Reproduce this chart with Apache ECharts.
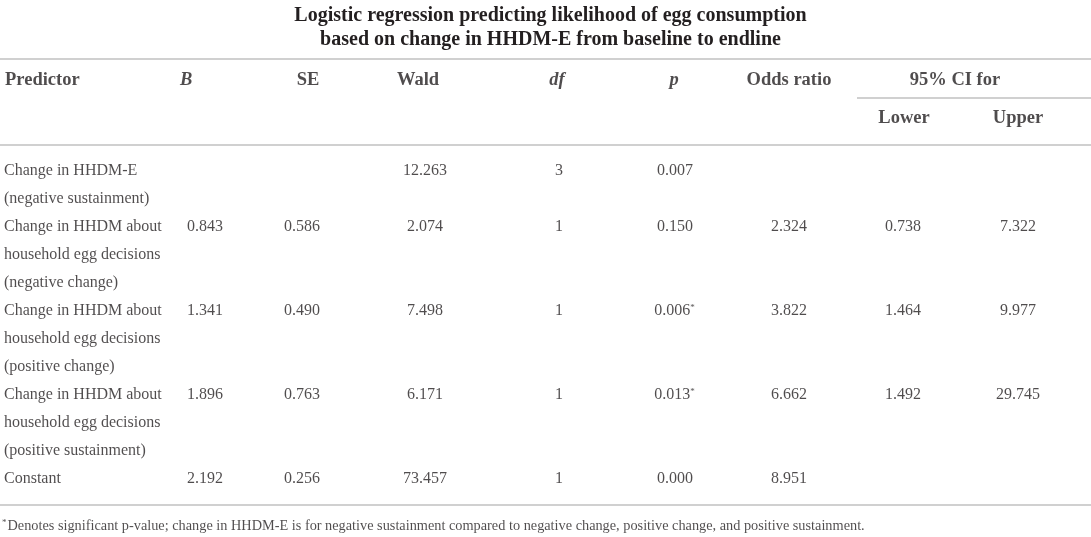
<!DOCTYPE html>
<html lang="en">
<head>
    <meta charset="UTF-8">
    <title>Logistic regression table</title>
    <script src="https://cdn.jsdelivr.net/npm/echarts@6/dist/echarts.min.js"></script>
    <style>
        html, body { margin: 0; padding: 0; background: #fff; }
        #main { width: 1091px; height: 537px; }
    </style>
</head>
<body>
<div id="main"></div>
<script>
    // table data
    const predictorLines = [
        ['Change in HHDM-E', '(negative sustainment)'],
        ['Change in HHDM about', 'household egg decisions', '(negative change)'],
        ['Change in HHDM about', 'household egg decisions', '(positive change)'],
        ['Change in HHDM about', 'household egg decisions', '(positive sustainment)'],
        ['Constant']
    ];
    const colB = ['', '0.843', '1.341', '1.896', '2.192'];
    const colSE = ['', '0.586', '0.490', '0.763', '0.256'];
    const colWald = ['12.263', '2.074', '7.498', '6.171', '73.457'];
    const colDf = ['3', '1', '1', '1', '1'];
    const colP = ['0.007', '0.150', '0.006*', '0.013*', '0.000'];
    const colOR = ['', '2.324', '3.822', '6.662', '8.951'];
    const colLower = ['', '0.738', '1.464', '1.492', ''];
    const colUpper = ['', '7.322', '9.977', '29.745', ''];
    const headers = ['Predictor', 'B', 'SE', 'Wald', 'df', 'p', 'Odds ratio', '95% CI for'];
    const subHeaders = ['Lower', 'Upper'];
    const titleText = 'Logistic regression predicting likelihood of egg consumption\nbased on change in HHDM-E from baseline to endline';
    const footnote = 'Denotes significant p-value; change in HHDM-E is for negative sustainment compared to negative change, positive change, and positive sustainment.';

    // layout (pixels of the 1091x537 canvas)
    const W = 1091, H = 537;
    const FONT = '"Liberation Serif", "DejaVu Serif", serif';
    const INK = '#231f20';
    const headerX = [5, 180, 308, 418, 557, 674, 789, 955];
    const headerAlign = ['left', 'left', 'center', 'center', 'center', 'center', 'center', 'center'];
    const headerItalic = [false, true, false, false, true, true, false, false];
    const subHeaderX = [904, 1018];
    const valueX = [205, 302, 425, 559, 675, 789, 903, 1018];
    const headerY = 80, subHeaderY = 118;
    const firstLineY = 171, lineStep = 28;
    const rules = [[0, W, 59], [857, W, 98], [0, W, 145], [0, W, 505]];

    const cells = [];
    function addText(x, y, text, style) {
        cells.push({
            value: [x, y],
            label: Object.assign({formatter: text}, style)
        });
    }

    headers.forEach(function (h, i) {
        addText(headerX[i], headerY, h, {
            align: headerAlign[i], fontWeight: 'bold', fontSize: 18.5,
            fontStyle: headerItalic[i] ? 'italic' : 'normal'
        });
    });
    subHeaders.forEach(function (h, i) {
        addText(subHeaderX[i], subHeaderY, h, {align: 'center', fontWeight: 'bold', fontSize: 18.5});
    });

    const valueCols = [colB, colSE, colWald, colDf, colP, colOR, colLower, colUpper];
    let line = 0;
    predictorLines.forEach(function (lines, r) {
        const y0 = firstLineY + line * lineStep;
        lines.forEach(function (t, k) {
            addText(4, y0 + k * lineStep, t, {align: 'left', fontSize: 16});
        });
        valueCols.forEach(function (col, c) {
            const v = col[r];
            if (!v) return;
            const txt = v.endsWith('*') ? v.slice(0, -1) + '{sup|*}' : v;
            addText(valueX[c], y0, txt, {align: 'center', fontSize: 16});
        });
        line += lines.length;
    });

    addText(2, 526, '{sup|*}' + footnote, {align: 'left', fontSize: 14.3});

    const chart = echarts.init(document.getElementById('main'));
    chart.setOption({
        animation: false,
        title: {
            text: titleText,
            left: W / 2,
            top: -1,
            textAlign: 'center',
            textStyle: {fontFamily: FONT, fontWeight: 'bold', fontSize: 20, lineHeight: 24, color: INK}
        },
        grid: {left: 0, right: 0, top: 0, bottom: 0},
        xAxis: {type: 'value', min: 0, max: W, show: false},
        yAxis: {type: 'value', min: 0, max: H, inverse: true, show: false},
        series: [
            {
                type: 'custom',
                silent: true,
                data: rules,
                renderItem: function (params, api) {
                    const p1 = api.coord([api.value(0), api.value(2)]);
                    const p2 = api.coord([api.value(1), api.value(2)]);
                    return {
                        type: 'line',
                        shape: {x1: p1[0], y1: p1[1], x2: p2[0], y2: p2[1]},
                        style: {stroke: '#d0d0d0', lineWidth: 2}
                    };
                }
            },
            {
                type: 'scatter',
                symbolSize: 0,
                silent: true,
                data: cells,
                label: {
                    show: true,
                    position: 'inside',
                    verticalAlign: 'middle',
                    fontFamily: FONT,
                    color: INK,
                    rich: {
                        sup: {fontSize: 9, verticalAlign: 'top', padding: [0, 1, 7, 0], fontFamily: FONT, color: INK}
                    }
                }
            }
        ]
    });
</script>
</body>
</html>
